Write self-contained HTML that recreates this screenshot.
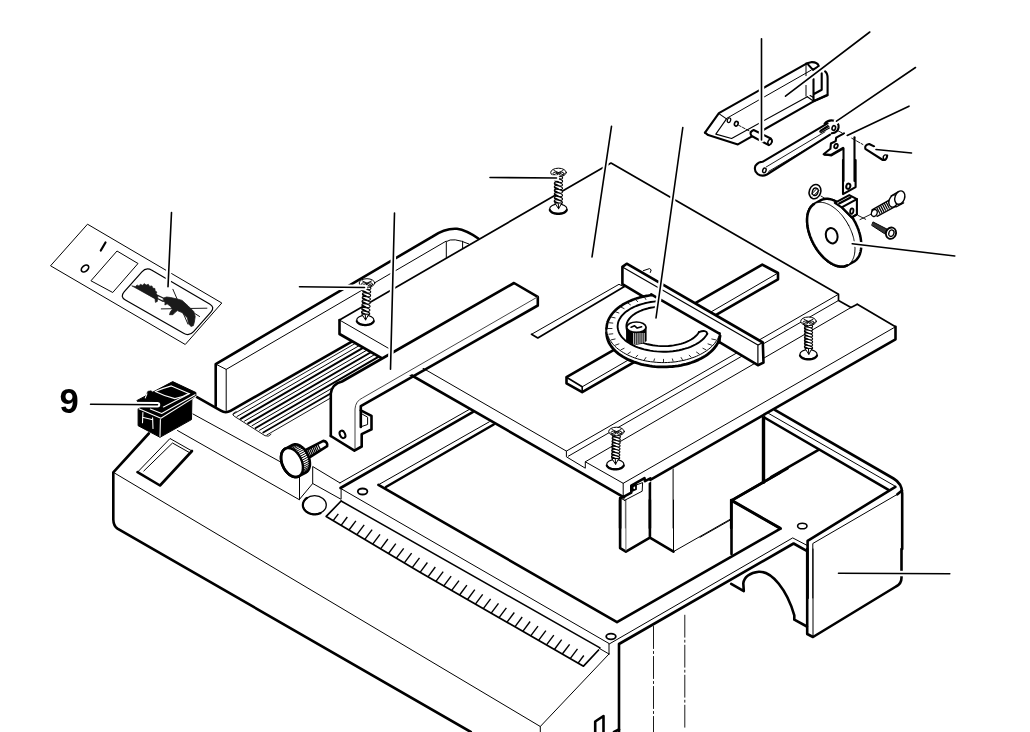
<!DOCTYPE html>
<html><head><meta charset="utf-8"><title>Exploded view</title>
<style>
html,body{margin:0;padding:0;background:#fff;}
body{width:1030px;height:732px;overflow:hidden;position:relative;font-family:"Liberation Sans",sans-serif;}
svg{position:absolute;left:0;top:0;display:block}
</style></head><body>
<svg width="1030" height="732" viewBox="0 0 1030 732" stroke-linecap="round" stroke-linejoin="round">
<rect width="1030" height="732" fill="#fff"/>
<path d="M148.8,433.5 L113.3,472.3 L113.3,519.5 Q113.5,526.0 117.5,528.6 L470.8,732.0" fill="none" stroke="#000" stroke-width="2.60" />
<path d="M113.3,472.3 L540.3,726.5 L540.3,732.0 M540.3,726.5 L609.0,654.0" fill="none" stroke="#000" stroke-width="1.00" />
<path d="M137.5,472.2 L170.0,438.5 L192.0,451.0" fill="none" stroke="#000" stroke-width="1.00" />
<path d="M137.5,472.2 L160.0,485.5 L192.0,451.0" fill="none" stroke="#000" stroke-width="2.60" />
<path d="M143.8,471.0 L172.5,443.0 L188.8,452.2" fill="none" stroke="#000" stroke-width="1.00" />
<path d="M177.5,430.5 L299.5,499.8 L299.5,472.3 L193.0,414.0" fill="none" stroke="#000" stroke-width="1.00" />
<path d="M299.5,477.9 L299.5,499.3 L312.7,483.5 L312.7,466.5 L339.9,482.9 M312.7,483.5 L341.1,499.3 L341.1,488.6" fill="none" stroke="#000" stroke-width="1.00" />
<ellipse cx="314.6" cy="505.0" rx="11.7" ry="9.3" transform="rotate(0.0 314.6 505.0)" fill="none" stroke="#000" stroke-width="1.30"/>
<path d="M320.5,513.1 L320.1,513.3 L319.6,513.4 L319.2,513.6 L318.7,513.7 L318.3,513.9 L317.8,514.0 L317.4,514.1 L316.9,514.2 L316.4,514.2 L315.9,514.3 L315.4,514.3 L315.0,514.3 L314.5,514.3 L314.0,514.3 L313.5,514.3 L313.0,514.3 L312.5,514.2 L312.1,514.1 L311.6,514.0 L311.1,513.9 L310.7,513.8 L310.2,513.7 L309.8,513.5 L309.3,513.3 L308.9,513.2 L308.5,513.0 L308.1,512.8 L307.7,512.5 L307.3,512.3 L306.9,512.1 L306.6,511.8 L306.2,511.5 L305.9,511.3 L305.6,511.0 L305.3,510.7 L305.0,510.4 L304.7,510.0 L304.5,509.7 L304.2,509.4 L304.0,509.0 L303.8,508.7 L303.6,508.3 L303.5,508.0 L303.3,507.6 L303.2,507.2 L303.1,506.8 L303.0,506.5 L302.9,506.1 L302.9,505.7 L302.9,505.3 L302.9,504.9 L302.9,504.5 L302.9,504.2 L303.0,503.8 L303.1,503.4 L303.1,503.0 L303.3,502.7 L303.4,502.3 L303.5,501.9 L303.7,501.6 L303.9,501.2 L304.1,500.8 L304.3,500.5 L304.6,500.2 L304.8,499.9 L305.1,499.5 L305.4,499.2 L305.7,498.9 L306.0,498.6 L306.4,498.4 L306.7,498.1 L307.1,497.8" fill="none" stroke="#000" stroke-width="2.20" />
<path d="M340.5,488.0 L472.7,412.2" fill="none" stroke="#000" stroke-width="2.60" />
<path d="M339.9,482.9 L469.2,409.5" fill="none" stroke="#000" stroke-width="1.00" />
<path d="M378.4,484.8 L489.3,421.8" fill="none" stroke="#000" stroke-width="1.00" />
<path d="M385.9,487.0 L493.7,424.5" fill="none" stroke="#000" stroke-width="2.60" />
<path d="M378.4,484.8 L617.0,622.2 L780.5,528.6" fill="none" stroke="#000" stroke-width="2.60" />
<ellipse cx="362.6" cy="491.5" rx="4.8" ry="3.0" transform="rotate(0.0 362.6 491.5)" fill="none" stroke="#000" stroke-width="1.80"/>
<path d="M340.8,488.5 L609.0,643.5 L609.0,654.0" fill="none" stroke="#000" stroke-width="1.00" />
<path d="M341.1,501.0 L600.0,647.8" fill="none" stroke="#000" stroke-width="1.50" />
<path d="M326.2,516.4 L420.0,572.2 L583.5,666.2 L598.6,650.0 M326.2,516.4 L341.1,501.0" fill="none" stroke="#000" stroke-width="1.70" />
<path d="M599.5,648.5 L609.0,654.0" fill="none" stroke="#000" stroke-width="1.00" />
<path d="M333.2,520.6 L338.3,513.8" fill="none" stroke="#000" stroke-width="1.40" stroke-linecap="butt"/>
<path d="M341.1,525.3 L347.3,517.0" fill="none" stroke="#000" stroke-width="1.40" stroke-linecap="butt"/>
<path d="M349.0,530.0 L355.9,520.8" fill="none" stroke="#000" stroke-width="1.40" stroke-linecap="butt"/>
<path d="M356.9,534.7 L364.2,524.9" fill="none" stroke="#000" stroke-width="1.40" stroke-linecap="butt"/>
<path d="M364.8,539.4 L372.1,529.6" fill="none" stroke="#000" stroke-width="1.40" stroke-linecap="butt"/>
<path d="M372.7,544.1 L380.0,534.3" fill="none" stroke="#000" stroke-width="1.40" stroke-linecap="butt"/>
<path d="M380.6,548.8 L387.9,539.0" fill="none" stroke="#000" stroke-width="1.40" stroke-linecap="butt"/>
<path d="M388.5,553.5 L395.8,543.7" fill="none" stroke="#000" stroke-width="1.40" stroke-linecap="butt"/>
<path d="M396.4,558.2 L403.7,548.4" fill="none" stroke="#000" stroke-width="1.40" stroke-linecap="butt"/>
<path d="M404.3,562.9 L411.6,553.1" fill="none" stroke="#000" stroke-width="1.40" stroke-linecap="butt"/>
<path d="M412.2,567.6 L419.5,557.8" fill="none" stroke="#000" stroke-width="1.40" stroke-linecap="butt"/>
<path d="M420.1,572.3 L427.4,562.5" fill="none" stroke="#000" stroke-width="1.40" stroke-linecap="butt"/>
<path d="M428.0,576.8 L435.3,567.0" fill="none" stroke="#000" stroke-width="1.40" stroke-linecap="butt"/>
<path d="M435.9,581.3 L443.2,571.6" fill="none" stroke="#000" stroke-width="1.40" stroke-linecap="butt"/>
<path d="M443.8,585.9 L451.1,576.1" fill="none" stroke="#000" stroke-width="1.40" stroke-linecap="butt"/>
<path d="M451.7,590.4 L459.0,580.7" fill="none" stroke="#000" stroke-width="1.40" stroke-linecap="butt"/>
<path d="M459.6,595.0 L466.9,585.2" fill="none" stroke="#000" stroke-width="1.40" stroke-linecap="butt"/>
<path d="M467.5,599.5 L474.8,589.7" fill="none" stroke="#000" stroke-width="1.40" stroke-linecap="butt"/>
<path d="M475.4,604.1 L482.7,594.3" fill="none" stroke="#000" stroke-width="1.40" stroke-linecap="butt"/>
<path d="M483.3,608.6 L490.6,598.8" fill="none" stroke="#000" stroke-width="1.40" stroke-linecap="butt"/>
<path d="M491.2,613.1 L498.5,603.4" fill="none" stroke="#000" stroke-width="1.40" stroke-linecap="butt"/>
<path d="M499.1,617.7 L506.4,607.9" fill="none" stroke="#000" stroke-width="1.40" stroke-linecap="butt"/>
<path d="M507.0,622.2 L514.3,612.5" fill="none" stroke="#000" stroke-width="1.40" stroke-linecap="butt"/>
<path d="M514.9,626.8 L522.2,617.0" fill="none" stroke="#000" stroke-width="1.40" stroke-linecap="butt"/>
<path d="M522.8,631.3 L530.1,621.5" fill="none" stroke="#000" stroke-width="1.40" stroke-linecap="butt"/>
<path d="M530.7,635.8 L538.0,626.1" fill="none" stroke="#000" stroke-width="1.40" stroke-linecap="butt"/>
<path d="M538.6,640.4 L545.9,630.6" fill="none" stroke="#000" stroke-width="1.40" stroke-linecap="butt"/>
<path d="M546.5,644.9 L553.8,635.2" fill="none" stroke="#000" stroke-width="1.40" stroke-linecap="butt"/>
<path d="M554.4,649.5 L561.7,639.7" fill="none" stroke="#000" stroke-width="1.40" stroke-linecap="butt"/>
<path d="M562.3,654.0 L569.6,644.3" fill="none" stroke="#000" stroke-width="1.40" stroke-linecap="butt"/>
<path d="M570.2,658.6 L577.5,648.8" fill="none" stroke="#000" stroke-width="1.40" stroke-linecap="butt"/>
<path d="M578.1,663.1 L583.8,655.5" fill="none" stroke="#000" stroke-width="1.40" stroke-linecap="butt"/>
<ellipse cx="611.0" cy="636.5" rx="4.8" ry="2.8" transform="rotate(0.0 611.0 636.5)" fill="none" stroke="#000" stroke-width="1.80"/>
<path d="M609.2,644.0 L792.7,537.9 L806.7,545.2" fill="none" stroke="#000" stroke-width="1.00" />
<path d="M619.0,732.0 L619.0,644.0 L793.6,543.5 L806.7,550.8" fill="none" stroke="#000" stroke-width="2.60" />
<path d="M653.5,626.5 L653.5,732.0 M684.8,615.2 L684.8,729.0" fill="none" stroke="#000" stroke-width="0.90" stroke-dasharray="22 3 2 3"/>
<path d="M595.2,732.0 L595.2,721.5 L603.5,716.0 L603.5,732.0 M614.0,732.0 L619.0,729.5" fill="none" stroke="#000" stroke-width="2.60" />
<path d="M731.2,583.8 L743.8,591.1 L743.3,583.3 C744.0,577.0 750.0,572.5 758.8,571.7 C772.0,571.0 787.0,590.0 794.3,615.3 L794.3,619.7 L806.9,626.5" fill="none" stroke="#000" stroke-width="2.60" />
<path d="M807.6,598.0 L807.6,540.8 L895.4,486.9" fill="none" stroke="#000" stroke-width="2.60" />
<path d="M812.8,598.0 L812.8,543.5 L897.4,494.3" fill="none" stroke="#000" stroke-width="1.00" />
<path d="M897.4,494.3 L902.0,490.5" fill="none" stroke="#000" stroke-width="2.60" />
<ellipse cx="802.3" cy="526.0" rx="4.7" ry="2.8" transform="rotate(0.0 802.3 526.0)" fill="none" stroke="#000" stroke-width="1.60"/>
<path d="M774.8,409.8 L893.5,478.5 Q902.2,483.5 902.2,493.5 L902.2,549.0" fill="none" stroke="#000" stroke-width="2.60" />
<path d="M768.2,413.2 L895.4,486.3" fill="none" stroke="#000" stroke-width="1.00" />
<path d="M764.3,417.5 L888.5,489.8" fill="none" stroke="#000" stroke-width="2.60" />
<path d="M901.5,549.0 L901.5,577.8 Q901.5,584.0 896.0,586.5 L813.0,637.0 L807.2,634.0 L807.2,549.0" fill="none" stroke="#000" stroke-width="2.60" />
<path d="M813.0,549.0 L813.0,636.5" fill="none" stroke="#000" stroke-width="1.00" />
<path d="M731.5,554.0 L731.5,500.6 L787.5,468.3 M731.5,500.6 L780.5,528.6 M763.3,470.0 L763.3,482.2" fill="none" stroke="#000" stroke-width="2.60" />
<path d="M700.0,537.3 L730.6,519.9" fill="none" stroke="#000" stroke-width="1.00" />
<path d="M763.5,482.2 L780.0,472.6 M763.5,482.2 L731.2,500.6 L731.2,528.0" fill="none" stroke="#000" stroke-width="2.60" />
<path d="M763.5,414.0 L763.5,482.2" fill="none" stroke="#000" stroke-width="3.40" />
<path d="M731.2,500.0 L780.0,528.0" fill="none" stroke="#000" stroke-width="2.60" />
<path d="M620.1,498.0 L620.1,528.0 M649.9,481.3 L649.9,528.0" fill="none" stroke="#000" stroke-width="2.60" />
<path d="M625.4,500.6 L625.4,528.0" fill="none" stroke="#666" stroke-width="1.00" />
<path d="M673.1,467.3 L673.1,528.0 M620.1,498.0 L625.4,500.6" fill="none" stroke="#000" stroke-width="1.00" />
<path d="M620.1,500.0 L620.1,548.1 L625.9,551.6 L649.9,537.6 L649.9,500.0 M649.9,537.6 L673.5,551.6" fill="none" stroke="#000" stroke-width="2.60" />
<path d="M625.9,500.0 L625.9,550.7" fill="none" stroke="#666" stroke-width="1.00" />
<path d="M673.5,500.0 L673.5,551.6 L730.3,519.2" fill="none" stroke="#000" stroke-width="1.00" />
<path d="M771.0,477.2 L818.5,449.8" fill="none" stroke="#000" stroke-width="2.60" />
<path d="M215.7,364.1 L432.0,236.8 Q445.0,228.0 457.0,228.8 Q466.0,230.0 478.3,238.5 L352.2,341.4 L229.7,411.3 L222.7,411.3 L215.7,405.2 Z" fill="#fff" stroke="#fff" stroke-width="0.10" />
<path d="M352.2,341.4 L230.5,410.9 Q225.6,413.6 220.8,410.7 L197.0,397.1" fill="none" stroke="#000" stroke-width="2.60" />
<path d="M215.7,406.0 L215.7,364.1 L432.0,236.8 Q445.0,228.0 457.0,228.8 Q466.0,230.0 478.3,238.5" fill="none" stroke="#000" stroke-width="2.60" />
<path d="M215.7,364.1 L226.2,369.4 L226.2,410.5 M226.2,369.4 L446.0,241.2" fill="none" stroke="#000" stroke-width="1.00" />
<path d="M446.3,257.9 L446.3,241.6 Q452.9,236.9 468.7,243.9 M462.6,241.2 L462.6,248.2" fill="none" stroke="#000" stroke-width="1.00" />
<path d="M233.2,414.2 L363.2,338.8" fill="none" stroke="#000" stroke-width="0.90" />
<path d="M237.0,416.5 L367.0,341.1" fill="none" stroke="#000" stroke-width="1.00" />
<path d="M240.7,418.8 L370.7,343.4" fill="none" stroke="#000" stroke-width="2.00" />
<path d="M244.5,421.1 L374.5,345.7" fill="none" stroke="#000" stroke-width="1.00" />
<path d="M248.2,423.4 L378.2,348.0" fill="none" stroke="#000" stroke-width="2.00" />
<path d="M252.0,425.7 L382.0,350.3" fill="none" stroke="#000" stroke-width="1.00" />
<path d="M255.7,428.0 L385.7,352.6" fill="none" stroke="#000" stroke-width="2.00" />
<path d="M259.5,430.3 L389.5,354.9" fill="none" stroke="#000" stroke-width="1.00" />
<path d="M263.2,432.6 L393.2,357.2" fill="none" stroke="#000" stroke-width="1.70" />
<path d="M267.0,434.9 L397.0,359.5" fill="none" stroke="#000" stroke-width="0.90" />
<path d="M236.2,411.7 Q230.7,413.7 234.2,416.2 L265.0,435.7 Q268.5,437.4 271.0,434.4" fill="none" stroke="#000" stroke-width="0.90" />
<path d="M305.3,450.1 L323.3,440.9 Q328.1,441.8 327.1,446.2 L308.7,457.9 Z" fill="#fff" stroke="#000" stroke-width="2.60" />
<path d="M306.0,449.8 L308.9,456.4" fill="none" stroke="#000" stroke-width="1.20" />
<path d="M307.6,449.0 L310.5,455.6" fill="none" stroke="#000" stroke-width="1.20" />
<path d="M309.3,448.2 L312.2,454.8" fill="none" stroke="#000" stroke-width="1.20" />
<path d="M310.9,447.3 L313.8,453.9" fill="none" stroke="#000" stroke-width="1.20" />
<path d="M312.6,446.5 L315.5,453.1" fill="none" stroke="#000" stroke-width="1.20" />
<path d="M314.2,445.7 L317.1,452.3" fill="none" stroke="#000" stroke-width="1.20" />
<path d="M315.9,444.9 L318.8,451.5" fill="none" stroke="#000" stroke-width="1.20" />
<path d="M317.9,444.8 L320.8,450.1" fill="none" stroke="#000" stroke-width="1.20" />
<path d="M298.5,476.4 L298.2,476.6 L297.8,476.7 L297.5,476.8 L297.2,476.9 L296.8,476.9 L296.5,477.0 L296.2,477.0 L295.8,477.0 L295.4,477.0 L295.1,477.0 L294.7,477.0 L294.3,476.9 L294.0,476.8 L293.6,476.7 L293.2,476.6 L292.8,476.5 L292.4,476.3 L292.1,476.2 L291.7,476.0 L291.3,475.8 L290.9,475.6 L290.5,475.4 L290.2,475.1 L289.8,474.9 L289.4,474.6 L289.0,474.3 L288.7,474.0 L288.3,473.7 L288.0,473.4 L287.6,473.0 L287.3,472.7 L286.9,472.3 L286.6,471.9 L286.3,471.5 L285.9,471.1 L285.6,470.7 L285.3,470.3 L285.0,469.9 L284.7,469.4 L284.4,469.0 L284.2,468.5 L283.9,468.1 L283.7,467.6 L283.4,467.1 L283.2,466.6 L283.0,466.1 L282.8,465.7 L282.6,465.2 L282.4,464.7 L282.2,464.2 L282.0,463.7 L281.9,463.1 L281.7,462.6 L281.6,462.1 L281.5,461.6 L281.4,461.1 L281.3,460.6 L281.2,460.1 L281.2,459.6 L281.1,459.1 L281.1,458.6 L281.1,458.2 L281.1,457.7 L281.1,457.2 L281.1,456.7 L281.1,456.3 L281.2,455.8 L281.2,455.4 L281.3,454.9 L281.4,454.5 L281.5,454.1 L281.6,453.7 L281.7,453.3 L281.8,452.9 L282.0,452.5 L282.1,452.2 L282.3,451.8 L282.5,451.5 L282.7,451.2 L282.9,450.9 L283.1,450.6 L283.3,450.3 L283.6,450.0 L283.8,449.8 L284.1,449.5 L284.3,449.3 L284.6,449.1 L284.9,448.9 L285.2,448.8 L292.5,444.9 L292.8,444.8 L293.1,444.7 L293.5,444.6 L293.8,444.5 L294.1,444.4 L294.5,444.4 L294.8,444.3 L295.2,444.3 L295.5,444.3 L295.9,444.4 L296.3,444.4 L296.6,444.5 L297.0,444.5 L297.4,444.6 L297.8,444.7 L298.1,444.9 L298.5,445.0 L298.9,445.2 L299.3,445.3 L299.7,445.5 L300.0,445.8 L300.4,446.0 L300.8,446.2 L301.2,446.5 L301.6,446.8 L301.9,447.0 L302.3,447.3 L302.7,447.7 L303.0,448.0 L303.4,448.3 L303.7,448.7 L304.0,449.0 L304.4,449.4 L304.7,449.8 L305.0,450.2 L305.3,450.6 L305.7,451.1 L306.0,451.5 L306.2,451.9 L306.5,452.4 L306.8,452.8 L307.1,453.3 L307.3,453.8 L307.5,454.3 L307.8,454.7 L308.0,455.2 L308.2,455.7 L308.4,456.2 L308.6,456.7 L308.8,457.2 L308.9,457.7 L309.1,458.2 L309.2,458.7 L309.3,459.2 L309.5,459.7 L309.6,460.2 L309.7,460.7 L309.7,461.2 L309.8,461.7 L309.8,462.2 L309.9,462.7 L309.9,463.2 L309.9,463.7 L309.9,464.2 L309.9,464.6 L309.9,465.1 L309.8,465.5 L309.8,466.0 L309.7,466.4 L309.6,466.8 L309.5,467.3 L309.4,467.7 L309.3,468.1 L309.1,468.4 L309.0,468.8 L308.8,469.2 L308.7,469.5 L308.5,469.9 L308.3,470.2 L308.1,470.5 L307.9,470.8 L307.6,471.1 L307.4,471.3 L307.2,471.6 L306.9,471.8 L306.6,472.0 L306.3,472.2 L306.1,472.4 L305.8,472.6 Z" fill="#fff" stroke="#000" stroke-width="2.60" />
<path d="M300.8,458.4 L301.0,458.9 L301.2,459.4 L301.4,459.9 L301.6,460.4 L301.8,460.9 L301.9,461.4 L302.1,461.9 L302.2,462.4 L302.4,462.9 L302.5,463.4 L302.6,463.9 L302.7,464.4 L302.7,464.9 L302.8,465.4 L302.9,465.9 L302.9,466.4 L302.9,466.9 L302.9,467.4 L302.9,467.9 L302.9,468.3 L302.9,468.8 L302.8,469.2 L302.8,469.7 L302.7,470.1 L302.6,470.5 L302.5,471.0 L302.4,471.4 L302.3,471.8 L302.2,472.1 L302.0,472.5 L301.8,472.9 L301.7,473.2 L301.5,473.6 L301.3,473.9 L301.1,474.2 L300.9,474.5 L300.7,474.8 L300.4,475.0 L300.2,475.3 L299.9,475.5 L299.6,475.7 L299.4,475.9 L299.1,476.1 L298.8,476.3 L298.5,476.4 L298.2,476.6 L297.8,476.7 L297.5,476.8 L297.2,476.9 L296.8,476.9 L296.5,477.0 L296.2,477.0 L295.8,477.0 L295.4,477.0 L295.1,477.0 L294.7,477.0 L294.3,476.9 L294.0,476.8 L293.6,476.7 L293.2,476.6 L292.8,476.5 L292.4,476.3 L292.1,476.2 L291.7,476.0 L291.3,475.8 L290.9,475.6 L290.5,475.4 L290.2,475.1 L289.8,474.9 L289.4,474.6 L289.0,474.3 L288.7,474.0 L288.3,473.7 L288.0,473.4 L287.6,473.0 L287.3,472.7 L286.9,472.3 L286.6,471.9 L286.3,471.5 L285.9,471.1 L285.6,470.7 L285.3,470.3 L285.0,469.9 L284.7,469.4 L284.4,469.0 L284.2,468.5 L283.9,468.1 L283.7,467.6 L283.4,467.1 L283.2,466.6 L283.0,466.1 L282.8,465.7 L282.6,465.2 L282.4,464.7 L282.2,464.2 L282.0,463.7 L281.9,463.1 L281.7,462.6 L281.6,462.1 L281.5,461.6 L281.4,461.1 L281.3,460.6 L281.2,460.1 L281.2,459.6 L281.1,459.1 L281.1,458.6 L281.1,458.2 L281.1,457.7 L281.1,457.2 L281.1,456.7 L281.1,456.3 L281.2,455.8 L281.2,455.4 L281.3,454.9 L281.4,454.5 L281.5,454.1 L281.6,453.7 L281.7,453.3 L281.8,452.9 L282.0,452.5 L282.1,452.2 L282.3,451.8 L282.5,451.5 L282.7,451.2 L282.9,450.9 L283.1,450.6 L283.3,450.3 L283.6,450.0 L283.8,449.8 L284.1,449.5 L284.3,449.3 L284.6,449.1 L284.9,448.9 L285.2,448.8 L285.5,448.6 L285.8,448.5 L286.1,448.4 L286.5,448.3 L286.8,448.2 L287.1,448.1 L287.5,448.1 L287.8,448.0 L288.2,448.0 L288.5,448.0 L288.9,448.1 L289.3,448.1 L289.7,448.2 L290.0,448.2 L290.4,448.3 L290.8,448.4 L291.2,448.6 L291.5,448.7 L291.9,448.9 L292.3,449.0 L292.7,449.2 L293.1,449.4 L293.4,449.7 L293.8,449.9 L294.2,450.2 L294.6,450.4 L294.9,450.7 L295.3,451.0 L295.7,451.3 L296.0,451.7 L296.4,452.0 L296.7,452.4 L297.1,452.7 L297.4,453.1 L297.7,453.5 L298.0,453.9 L298.4,454.3 L298.7,454.7 L299.0,455.2 L299.3,455.6 L299.5,456.1 L299.8,456.5 L300.1,457.0 L300.3,457.5 L300.6,457.9 L300.8,458.4 Z" fill="#fff" stroke="#000" stroke-width="1.00" />
<path d="M298.5,476.4 L298.2,476.6 L297.8,476.7 L297.5,476.8 L297.2,476.9 L296.8,476.9 L296.5,477.0 L296.2,477.0 L295.8,477.0 L295.4,477.0 L295.1,477.0 L294.7,477.0 L294.3,476.9 L294.0,476.8 L293.6,476.7 L293.2,476.6 L292.8,476.5 L292.4,476.3 L292.1,476.2 L291.7,476.0 L291.3,475.8 L290.9,475.6 L290.5,475.4 L290.2,475.1 L289.8,474.9 L289.4,474.6 L289.0,474.3 L288.7,474.0 L288.3,473.7 L288.0,473.4 L287.6,473.0 L287.3,472.7 L286.9,472.3 L286.6,471.9 L286.3,471.5 L285.9,471.1 L285.6,470.7 L285.3,470.3 L285.0,469.9 L284.7,469.4 L284.4,469.0 L284.2,468.5 L283.9,468.1 L283.7,467.6 L283.4,467.1 L283.2,466.6 L283.0,466.1 L282.8,465.7 L282.6,465.2 L282.4,464.7 L282.2,464.2 L282.0,463.7 L281.9,463.1 L281.7,462.6 L281.6,462.1 L281.5,461.6 L281.4,461.1 L281.3,460.6 L281.2,460.1 L281.2,459.6 L281.1,459.1 L281.1,458.6 L281.1,458.2 L281.1,457.7 L281.1,457.2 L281.1,456.7 L281.1,456.3 L281.2,455.8 L281.2,455.4 L281.3,454.9 L281.4,454.5 L281.5,454.1 L281.6,453.7 L281.7,453.3 L281.8,452.9 L282.0,452.5 L282.1,452.2 L282.3,451.8 L282.5,451.5 L282.7,451.2 L282.9,450.9 L283.1,450.6 L283.3,450.3 L283.6,450.0 L283.8,449.8 L284.1,449.5 L284.3,449.3 L284.6,449.1 L284.9,448.9 L285.2,448.8" fill="none" stroke="#000" stroke-width="2.60" />
<path d="M287.4,447.9 L293.2,444.8" fill="none" stroke="#000" stroke-width="1.00" />
<path d="M288.8,447.7 L294.6,444.6" fill="none" stroke="#000" stroke-width="1.00" />
<path d="M290.3,447.9 L296.1,444.8" fill="none" stroke="#000" stroke-width="1.00" />
<path d="M291.9,448.3 L297.7,445.2" fill="none" stroke="#000" stroke-width="1.00" />
<path d="M293.4,449.0 L299.2,445.9" fill="none" stroke="#000" stroke-width="1.00" />
<path d="M295.0,450.0 L300.8,446.9" fill="none" stroke="#000" stroke-width="1.00" />
<path d="M296.5,451.3 L302.3,448.1" fill="none" stroke="#000" stroke-width="1.00" />
<path d="M297.9,452.7 L303.7,449.6" fill="none" stroke="#000" stroke-width="1.00" />
<path d="M299.2,454.4 L305.0,451.3" fill="none" stroke="#000" stroke-width="1.00" />
<path d="M300.4,456.2 L306.2,453.1" fill="none" stroke="#000" stroke-width="1.00" />
<path d="M301.4,458.1 L307.2,455.0" fill="none" stroke="#000" stroke-width="1.00" />
<path d="M302.2,460.2 L308.0,457.0" fill="none" stroke="#000" stroke-width="1.00" />
<path d="M302.8,462.2 L308.7,459.1" fill="none" stroke="#000" stroke-width="1.00" />
<path d="M303.3,464.3 L309.1,461.2" fill="none" stroke="#000" stroke-width="1.00" />
<path d="M303.5,466.3 L309.3,463.2" fill="none" stroke="#000" stroke-width="1.00" />
<path d="M303.5,468.3 L309.3,465.2" fill="none" stroke="#000" stroke-width="1.00" />
<path d="M303.2,470.1 L309.1,467.0" fill="none" stroke="#000" stroke-width="1.00" />
<path d="M302.8,471.7 L308.6,468.6" fill="none" stroke="#000" stroke-width="1.00" />
<path d="M302.1,473.2 L307.9,470.1" fill="none" stroke="#000" stroke-width="1.00" />
<path d="M301.3,474.4 L307.1,471.3" fill="none" stroke="#000" stroke-width="1.00" />
<path d="M300.2,475.4 L306.0,472.3" fill="none" stroke="#000" stroke-width="1.00" />
<path d="M300.8,458.4 L301.3,459.7 L301.8,460.9 L302.2,462.2 L302.5,463.4 L302.7,464.7 L302.9,465.9 L302.9,467.1 L302.9,468.3 L302.8,469.5 L302.6,470.5 L302.3,471.6 L302.0,472.5 L301.6,473.4 L301.1,474.2 L300.5,474.9 L299.9,475.5 L299.2,476.0 L298.5,476.4 L297.7,476.7 L296.8,476.9 L296.0,477.0 L295.1,477.0 L294.1,476.9 L293.2,476.6 L292.3,476.3 L291.3,475.8 L290.3,475.3 L289.4,474.6 L288.5,473.9 L287.6,473.0 L286.8,472.1 L285.9,471.1 L285.2,470.1 L284.4,469.0 L283.8,467.8 L283.2,466.6 L282.7,465.4 L282.2,464.2 L281.8,462.9 L281.5,461.6 L281.3,460.4 L281.1,459.1 L281.1,457.9 L281.1,456.7 L281.2,455.6 L281.4,454.5 L281.6,453.5 L282.0,452.5 L282.4,451.7 L282.9,450.9 L283.4,450.2 L284.1,449.5 L284.8,449.0 L285.5,448.6 L286.3,448.3 L287.1,448.1 L288.0,448.0 L288.9,448.1 L289.8,448.2 L290.8,448.4 L291.7,448.8 L292.7,449.2 L293.6,449.8 L294.6,450.4 L295.5,451.2 L296.4,452.0 L297.2,452.9 L298.0,453.9 L298.8,455.0 L299.5,456.1 L300.2,457.2 L300.8,458.4" fill="none" stroke="#000" stroke-width="2.40" />
<path d="M137.2,400.4 L172.7,381.6 L195.9,392.5 L195.9,396.4 L191.9,399.1 L191.5,419.6 L160.0,437.3 L138.1,425.7 L138.1,408.7 L141.2,407.5 Z" fill="#000" stroke="#000" stroke-width="1.00" />
<path d="M139.0,408.7 L160.9,418.3 L195.9,396.4" fill="none" stroke="#fff" stroke-width="1.10" />
<path d="M150.4,409.1 L161.7,413.5 L195.0,394.7" fill="none" stroke="#fff" stroke-width="1.10" />
<path d="M155.2,391.4 Q163.5,388.1 171.4,385.9 L188.9,393.4 Q181.9,397.7 174.9,398.6 Q164.4,396.0 155.2,391.4 Z" fill="none" stroke="#fff" stroke-width="1.10" />
<path d="M145.6,397.3 L163.5,406.9 L189.7,393.5" fill="none" stroke="#fff" stroke-width="1.10" />
<path d="M160.4,419.6 L160.0,436.2" fill="none" stroke="#fff" stroke-width="1.10" />
<path d="M142.9,412.6 L142.5,422.7 M152.6,417.9 L153.0,428.4 M142.5,417.2 L152.8,419.8" fill="none" stroke="#fff" stroke-width="1.10" />
<path d="M144.7,397.9 L147.9,391.2 L151.2,390.7 L163.5,403.9 L162.6,407.4 Z" fill="#000" stroke="#000" stroke-width="0.50" />
<path d="M145.3,397.9 L146.9,393.8" fill="none" stroke="#fff" stroke-width="1.10" />
<path d="M339.5,320.0 L611.0,163.0 L838.5,294.3 L838.5,300.5 L851.0,307.5 L857.3,304.3 L895.5,326.8 L895.5,339.3 L624.0,497.3 L339.5,334.0 Z" fill="#fff" stroke="#fff" stroke-width="0.10" />
<path d="M339.5,320.0 L611.0,163.0 L838.5,294.3 L838.5,300.5 L851.0,307.5 L857.3,304.3" fill="none" stroke="#000" stroke-width="1.70" />
<path d="M857.3,304.3 L895.5,326.8" fill="none" stroke="#000" stroke-width="1.70" />
<path d="M895.5,326.8 L895.5,339.3 L650.3,479.8" fill="none" stroke="#000" stroke-width="2.60" />
<path d="M339.5,320.0 L339.5,334.0 L624.0,497.3" fill="none" stroke="#000" stroke-width="2.60" />
<path d="M339.5,320.0 L566.4,451.1 L566.4,456.8 L585.3,468.2 L585.3,461.8 L623.2,483.3 L895.5,326.8 M623.2,483.3 L623.2,496.0" fill="none" stroke="#000" stroke-width="1.00" />
<path d="M566.4,451.1 L838.5,294.3 M568.3,456.2 L838.5,300.5 M585.3,461.8 L851.0,307.5" fill="none" stroke="#000" stroke-width="1.00" />
<path d="M623.5,496.8 L631.3,492.6 L631.3,485.7 L644.5,478.1 L645.0,481.2 L650.4,478.3" fill="none" stroke="#000" stroke-width="2.60" />
<path d="M632.7,486.3 L636.0,484.9 L636.0,489.2 L632.7,490.8 Z" fill="none" stroke="#000" stroke-width="1.80" />
<path d="M636.0,485.1 L642.6,482.6 L642.2,491.2 L624.3,500.5" fill="none" stroke="#000" stroke-width="1.00" />
<path d="M620.4,498.2 L623.5,496.8" fill="none" stroke="#000" stroke-width="2.60" />
<path d="M531.5,334.3 L619.0,284.3 L624.0,286.8" fill="none" stroke="#000" stroke-width="1.00" />
<path d="M531.5,334.3 L537.8,338.0 L624.0,286.8" fill="none" stroke="#000" stroke-width="1.70" />
<path d="M566.5,377.2 L762.3,264.6 L778.0,273.0 L778.0,279.3 L582.2,392.1 L566.5,383.3 Z" fill="#fff" stroke="#000" stroke-width="2.60" />
<path d="M566.5,377.2 L582.2,386.8 L582.2,392.1" fill="none" stroke="#000" stroke-width="1.60" />
<path d="M582.2,386.8 L778.0,273.0" fill="none" stroke="#000" stroke-width="1.00" />
<path d="M622.4,266.9 L626.7,263.7 L762.8,342.5 L763.5,362.6 L757.9,365.2 L622.4,284.1 Z" fill="#fff" stroke="#000" stroke-width="2.60" />
<path d="M622.4,266.9 L757.9,345.1 L757.9,365.2 M757.9,345.1 L762.8,342.5" fill="none" stroke="#000" stroke-width="1.20" />
<path d="M643.3,270.7 L649.5,268.6 L651.2,269.9 L650.3,272.5" fill="none" stroke="#000" stroke-width="1.00" />
<path d="M719.6,338.2 L718.8,340.6 L717.7,343.0 L716.4,345.3 L714.7,347.6 L712.8,349.8 L710.7,351.9 L708.2,353.9 L705.6,355.8 L702.7,357.5 L699.6,359.2 L696.3,360.6 L692.9,362.0 L689.3,363.2 L685.6,364.3 L681.7,365.1 L677.8,365.8 L673.8,366.4 L669.7,366.7 L665.6,366.9 L661.5,366.9 L657.4,366.8 L653.3,366.4 L649.3,365.9 L645.3,365.2 L641.5,364.3 L637.8,363.3 L634.1,362.1 L630.7,360.7 L627.4,359.2 L624.3,357.6 L621.5,355.8 L618.8,353.9 L616.4,351.9 L614.2,349.8 L612.3,347.7 L610.6,345.4 L609.2,343.1 L608.1,340.7 L607.3,338.3 L606.8,335.8 L606.6,333.3 L606.7,330.9 L607.1,328.4 L607.8,326.0 L608.8,323.6 L610.0,321.2 L611.5,318.9 L613.4,316.7 L615.4,314.6 L617.8,312.5 L620.3,310.6 L623.1,308.8 L626.1,307.1 L629.3,305.6 L632.7,304.2 L636.2,302.9 L639.9,301.8 L643.7,300.8 L647.7,300.1 L651.6,299.5 Z" fill="#fff" stroke="#fff" stroke-width="0.10" />
<path d="M720.1,335.8 L719.8,337.5 L719.3,339.3 L718.7,340.9 L717.9,342.6 L717.0,344.3 L716.0,345.9 L714.8,347.5 L713.5,349.0 L712.1,350.5 L710.5,352.0 L708.8,353.4 L707.0,354.8 L705.1,356.1 L703.1,357.3 L700.9,358.5 L698.7,359.6 L696.4,360.6 L694.0,361.6 L691.5,362.5 L689.0,363.3 L686.4,364.1 L683.7,364.7 L681.0,365.3 L678.2,365.8 L675.4,366.2 L672.5,366.5 L669.7,366.7 L666.8,366.9 L663.9,366.9 L661.0,366.9 L658.1,366.8 L655.2,366.6 L652.4,366.3 L649.6,365.9 L646.8,365.4 L644.0,364.9 L641.3,364.3 L638.7,363.5 L636.1,362.7 L633.6,361.9 L631.2,360.9 L628.9,359.9 L626.6,358.8 L624.5,357.6 L622.4,356.4 L620.5,355.1 L618.6,353.8 L616.9,352.4 L615.3,351.0 L613.8,349.5 L612.5,347.9 L611.3,346.3 L610.2,344.7 L609.2,343.1 L608.5,341.4 L607.8,339.7 L607.3,338.0 L606.9,336.3 L606.7,334.6 L606.6,332.8" fill="none" stroke="#000" stroke-width="2.80" />
<path d="M606.6,328.5 L606.6,332.8 M719.4,333.4 L719.4,342.5" fill="none" stroke="#000" stroke-width="2.60" />
<path d="M719.6,333.8 L718.8,336.2 L717.7,338.6 L716.4,340.9 L714.7,343.2 L712.8,345.4 L710.7,347.5 L708.2,349.5 L705.6,351.4 L702.7,353.1 L699.6,354.8 L696.3,356.3 L692.9,357.6 L689.3,358.8 L685.6,359.9 L681.7,360.8 L677.8,361.5 L673.8,362.0 L669.7,362.4 L665.6,362.6 L661.5,362.6 L657.4,362.4 L653.3,362.0 L649.3,361.5 L645.3,360.8 L641.5,359.9 L637.8,358.9 L634.1,357.7 L630.7,356.3 L627.4,354.8 L624.3,353.2 L621.5,351.4 L618.8,349.6 L616.4,347.6 L614.2,345.5 L612.3,343.3 L610.6,341.0 L609.2,338.7 L608.1,336.3 L607.3,333.9 L606.8,331.4 L606.6,329.0 L606.7,326.5 L607.1,324.0 L607.8,321.6 L608.8,319.2 L610.0,316.9 L611.5,314.6 L613.4,312.4 L615.4,310.2 L617.8,308.2 L620.3,306.3 L623.1,304.4 L626.1,302.7 L629.3,301.2 L632.7,299.8 L636.2,298.5 L639.9,297.4 L643.7,296.5 L647.7,295.7 L651.6,295.1 Z" fill="#fff" stroke="#fff" stroke-width="0.10" />
<path d="M719.6,333.8 L719.1,335.5 L718.5,337.1 L717.7,338.8 L716.7,340.4 L715.7,341.9 L714.5,343.5 L713.2,345.0 L711.8,346.4 L710.2,347.9 L708.6,349.2 L706.8,350.6 L704.9,351.8 L702.9,353.0 L700.8,354.2 L698.7,355.2 L696.4,356.3 L694.1,357.2 L691.6,358.1 L689.1,358.9 L686.6,359.6 L684.0,360.3 L681.3,360.8 L678.6,361.3 L675.9,361.8 L673.1,362.1 L670.3,362.3 L667.5,362.5 L664.7,362.6 L661.8,362.6 L659.0,362.5 L656.2,362.3 L653.4,362.0 L650.6,361.7 L647.9,361.3 L645.2,360.8 L642.5,360.2 L639.9,359.5 L637.4,358.8 L634.9,358.0 L632.5,357.1 L630.2,356.1 L627.9,355.1 L625.8,354.0 L623.7,352.8 L621.7,351.6 L619.9,350.3 L618.1,349.0 L616.4,347.6 L614.9,346.2 L613.5,344.7 L612.2,343.2 L611.1,341.7 L610.0,340.1 L609.1,338.5 L608.4,336.9 L607.7,335.2 L607.2,333.5 L606.9,331.9 L606.7,330.2 L606.6,328.5" fill="none" stroke="#000" stroke-width="1.00" />
<path d="M606.6,328.5 L606.6,327.7 L606.7,326.9 L606.8,326.1 L606.8,325.4 L607.0,324.6 L607.1,323.8 L607.3,323.1 L607.5,322.3 L607.8,321.6 L608.1,320.8 L608.4,320.0 L608.7,319.3 L609.1,318.5 L609.5,317.8 L609.9,317.1 L610.3,316.4 L610.8,315.6 L611.3,314.9 L611.8,314.2 L612.4,313.5 L612.9,312.8 L613.6,312.1 L614.2,311.5 L614.8,310.8 L615.5,310.1 L616.2,309.5 L617.0,308.9 L617.7,308.2 L618.5,307.6 L619.3,307.0 L620.1,306.4 L621.0,305.8 L621.8,305.3 L622.7,304.7 L623.6,304.1 L624.5,303.6 L625.5,303.1 L626.5,302.6 L627.5,302.1 L628.5,301.6 L629.5,301.1 L630.5,300.7 L631.6,300.2 L632.7,299.8 L633.8,299.4 L634.9,299.0 L636.0,298.6 L637.1,298.2 L638.3,297.9 L639.4,297.6 L640.6,297.2 L641.8,296.9 L643.0,296.6 L644.2,296.4 L645.4,296.1 L646.7,295.9 L647.9,295.7 L649.1,295.5 L650.4,295.3 L651.6,295.1" fill="none" stroke="#000" stroke-width="2.60" />
<path d="M651.2,294.4 L719.4,333.7" fill="none" stroke="#000" stroke-width="2.60" />
<path d="M711.8,339.0 L715.6,339.8" fill="none" stroke="#111" stroke-width="0.90" />
<path d="M708.0,343.9 L711.5,345.1" fill="none" stroke="#111" stroke-width="0.90" />
<path d="M702.9,348.3 L705.9,349.8" fill="none" stroke="#111" stroke-width="0.90" />
<path d="M696.5,352.1 L699.1,353.9" fill="none" stroke="#111" stroke-width="0.90" />
<path d="M689.2,355.2 L691.2,357.3" fill="none" stroke="#111" stroke-width="0.90" />
<path d="M681.1,357.5 L682.4,359.7" fill="none" stroke="#111" stroke-width="0.90" />
<path d="M672.4,358.9 L673.1,361.2" fill="none" stroke="#111" stroke-width="0.90" />
<path d="M663.5,359.3 L663.5,361.7" fill="none" stroke="#111" stroke-width="0.90" />
<path d="M654.5,358.9 L653.8,361.2" fill="none" stroke="#111" stroke-width="0.90" />
<path d="M645.9,357.5 L644.5,359.7" fill="none" stroke="#111" stroke-width="0.90" />
<path d="M637.7,355.2 L635.8,357.3" fill="none" stroke="#111" stroke-width="0.90" />
<path d="M630.4,352.1 L627.8,353.9" fill="none" stroke="#111" stroke-width="0.90" />
<path d="M624.1,348.3 L621.0,349.8" fill="none" stroke="#111" stroke-width="0.90" />
<path d="M618.9,343.9 L615.5,345.1" fill="none" stroke="#111" stroke-width="0.90" />
<path d="M615.1,339.0 L611.4,339.8" fill="none" stroke="#111" stroke-width="0.90" />
<path d="M612.8,333.8 L608.9,334.2" fill="none" stroke="#111" stroke-width="0.90" />
<path d="M612.0,328.5 L608.0,328.5" fill="none" stroke="#111" stroke-width="0.90" />
<path d="M612.8,323.1 L608.9,322.7" fill="none" stroke="#111" stroke-width="0.90" />
<path d="M615.1,317.9 L611.4,317.1" fill="none" stroke="#111" stroke-width="0.90" />
<path d="M618.9,313.0 L615.5,311.8" fill="none" stroke="#111" stroke-width="0.90" />
<path d="M624.1,308.6 L621.0,307.1" fill="none" stroke="#111" stroke-width="0.90" />
<path d="M630.4,304.8 L627.8,303.0" fill="none" stroke="#111" stroke-width="0.90" />
<path d="M637.7,301.7 L635.8,299.7" fill="none" stroke="#111" stroke-width="0.90" />
<path d="M645.9,299.5 L644.5,297.2" fill="none" stroke="#111" stroke-width="0.90" />
<path d="M707.3,333.8 L706.2,335.5 L704.9,337.2 L703.5,338.8 L701.8,340.3 L699.9,341.8 L697.8,343.2 L695.5,344.5 L693.1,345.7 L690.6,346.8 L687.9,347.8 L685.0,348.7 L682.1,349.5 L679.1,350.2 L676.0,350.8 L672.8,351.2 L669.6,351.5 L666.3,351.7 L663.1,351.7 L659.8,351.6 L656.6,351.4 L653.4,351.1 L650.2,350.6 L647.1,350.0 L644.1,349.4 L641.2,348.5 L638.4,347.6 L635.7,346.6 L633.2,345.4 L630.8,344.2 L628.6,342.8 L626.6,341.4 L624.7,339.9 L623.1,338.4 L621.7,336.8 L620.4,335.1 L619.4,333.4 L618.6,331.6 L618.1,329.8 L617.7,328.0 L617.6,326.2 L617.8,324.4 L618.1,322.6 L618.7,320.8 L619.6,319.1 L620.6,317.4 L621.9,315.7 L623.4,314.1 L625.0,312.5 L626.9,311.1 L629.0,309.7 L631.2,308.3 L633.6,307.1 L636.2,306.0 L638.8,305.0 L641.7,304.1 L644.6,303.3 L647.6,302.6 L650.7,302.0 L653.9,301.6 L657.1,301.2" fill="none" stroke="#000" stroke-width="1.90" />
<path d="M698.9,332.1 L698.1,333.5 L697.0,334.8 L695.8,336.0 L694.4,337.2 L692.9,338.4 L691.2,339.5 L689.4,340.5 L687.5,341.4 L685.4,342.3 L683.2,343.1 L680.9,343.8 L678.5,344.4 L676.1,344.9 L673.6,345.4 L671.0,345.7 L668.4,346.0 L665.8,346.1 L663.1,346.1 L660.5,346.1 L657.9,345.9 L655.3,345.6 L652.7,345.3 L650.2,344.8 L647.8,344.3 L645.4,343.6 L643.2,342.9 L641.0,342.1 L639.0,341.2 L637.1,340.2 L635.3,339.2 L633.6,338.1 L632.1,336.9 L630.8,335.7 L629.6,334.5 L628.6,333.2 L627.8,331.8 L627.2,330.4 L626.7,329.1 L626.5,327.7 L626.4,326.2 L626.5,324.8 L626.8,323.4 L627.3,322.1 L627.9,320.7 L628.8,319.4 L629.8,318.1 L631.0,316.8 L632.4,315.6 L633.9,314.5 L635.5,313.4 L637.4,312.3 L639.3,311.4 L641.4,310.5 L643.5,309.7 L645.8,309.0 L648.2,308.3 L650.6,307.8 L653.1,307.4 L655.7,307.0 L658.3,306.8" fill="none" stroke="#000" stroke-width="1.90" />
<path d="M707.3,333.8 Q706.4,329.4 698.9,332.1" fill="none" stroke="#000" stroke-width="1.90" />
<path d="M626.7,327.2 L626.7,340.7 Q636.4,347.7 646.0,340.7 L646.0,327.2 Z" fill="#000" stroke="#000" stroke-width="1.20" />
<path d="M633.7,333.4 L633.7,343.5" fill="none" stroke="#fff" stroke-width="0.90" />
<path d="M635.8,333.4 L635.8,344.0" fill="none" stroke="#fff" stroke-width="0.90" />
<path d="M637.9,333.4 L637.9,343.7" fill="none" stroke="#fff" stroke-width="0.90" />
<path d="M640.0,333.4 L640.0,343.2" fill="none" stroke="#fff" stroke-width="0.90" />
<path d="M642.1,333.4 L642.1,342.6" fill="none" stroke="#fff" stroke-width="0.90" />
<path d="M644.2,333.4 L644.2,342.1" fill="none" stroke="#fff" stroke-width="0.90" />
<ellipse cx="636.4" cy="327.2" rx="9.6" ry="5.2" transform="rotate(0.0 636.4 327.2)" fill="#fff" stroke="#000" stroke-width="1.60"/>
<path d="M631.1,327.2 L634.6,325.8 L637.2,328.1 L641.6,326.7" fill="none" stroke="#000" stroke-width="1.60" />
<path d="M342.0,381.5 L514.0,283.0 L537.8,296.8 L537.8,305.5 L367.0,398.5 L360.0,406.0 L360.0,446.0 L354.4,450.7 L330.8,436.0 L330.8,393.5 Q332.0,385.0 342.0,381.5 Z" fill="#fff" stroke="#fff" stroke-width="0.10" />
<path d="M330.8,436.0 L330.8,393.5 Q332.0,384.0 342.0,381.5 L514.0,283.0 L537.8,296.8 L537.8,305.5 L360.8,406.1 L360.8,427.0" fill="none" stroke="#000" stroke-width="2.60" />
<path d="M537.8,296.8 L362.7,397.8 Q355.5,401.0 355.0,409.0 L355.0,450.0" fill="none" stroke="#444" stroke-width="1.00" />
<path d="M330.8,436.0 L354.4,450.7 L361.7,446.5 L361.7,434.2 L371.5,429.4 L371.5,415.8 L360.8,410.4" fill="none" stroke="#000" stroke-width="2.60" />
<path d="M361.7,413.8 L367.6,417.2 L367.6,424.5 L361.7,426.5" fill="none" stroke="#000" stroke-width="1.00" />
<ellipse cx="342.5" cy="434.4" rx="2.6" ry="3.9" transform="rotate(-25.0 342.5 434.4)" fill="none" stroke="#000" stroke-width="2.00"/>
<ellipse cx="615.3" cy="464.3" rx="8.6" ry="4.6" fill="#fff" stroke="#000" stroke-width="1.2"/>
<path d="M623.8,465.6 L623.6,466.0 L623.3,466.4 L623.0,466.8 L622.6,467.2 L622.2,467.5 L621.7,467.9 L621.1,468.2 L620.5,468.5 L619.9,468.7 L619.2,468.9 L618.4,469.1 L617.7,469.2 L616.9,469.3 L616.1,469.4 L615.3,469.4 L614.5,469.4 L613.7,469.3 L612.9,469.2 L612.2,469.1 L611.4,468.9 L610.7,468.7 L610.1,468.5 L609.5,468.2 L608.9,467.9 L608.4,467.5 L608.0,467.2 L607.6,466.8 L607.3,466.4 L607.0,466.0 L606.8,465.6" fill="none" stroke="#000" stroke-width="2.2"/>
<ellipse cx="616.3" cy="436.0" rx="4.2" ry="1.7" transform="rotate(14 616.3 436.0)" fill="#fff" stroke="#000" stroke-width="1.1"/>
<path d="M612.9,435.8 L616.0,437.4" stroke="#000" stroke-width="1.5" fill="none"/>
<ellipse cx="616.2" cy="439.0" rx="4.2" ry="1.7" transform="rotate(14 616.2 439.0)" fill="#fff" stroke="#000" stroke-width="1.1"/>
<path d="M612.8,438.8 L615.9,440.4" stroke="#000" stroke-width="1.5" fill="none"/>
<ellipse cx="616.1" cy="442.1" rx="4.2" ry="1.7" transform="rotate(14 616.1 442.1)" fill="#fff" stroke="#000" stroke-width="1.1"/>
<path d="M612.7,441.9 L615.8,443.5" stroke="#000" stroke-width="1.5" fill="none"/>
<ellipse cx="616.0" cy="445.1" rx="4.2" ry="1.7" transform="rotate(14 616.0 445.1)" fill="#fff" stroke="#000" stroke-width="1.1"/>
<path d="M612.6,444.9 L615.7,446.5" stroke="#000" stroke-width="1.5" fill="none"/>
<ellipse cx="615.9" cy="448.2" rx="4.2" ry="1.7" transform="rotate(14 615.9 448.2)" fill="#fff" stroke="#000" stroke-width="1.1"/>
<path d="M612.5,448.0 L615.6,449.6" stroke="#000" stroke-width="1.5" fill="none"/>
<ellipse cx="615.8" cy="451.2" rx="4.2" ry="1.7" transform="rotate(14 615.8 451.2)" fill="#fff" stroke="#000" stroke-width="1.1"/>
<path d="M612.4,451.0 L615.5,452.6" stroke="#000" stroke-width="1.5" fill="none"/>
<ellipse cx="615.7" cy="454.3" rx="4.2" ry="1.7" transform="rotate(14 615.7 454.3)" fill="#fff" stroke="#000" stroke-width="1.1"/>
<path d="M612.3,454.1 L615.4,455.7" stroke="#000" stroke-width="1.5" fill="none"/>
<ellipse cx="615.6" cy="457.3" rx="4.2" ry="1.7" transform="rotate(14 615.6 457.3)" fill="#fff" stroke="#000" stroke-width="1.1"/>
<path d="M612.2,457.1 L615.3,458.7" stroke="#000" stroke-width="1.5" fill="none"/>
<path d="M612.0,458.8 L615.6,464.3 L618.6,458.8 Z" fill="#fff" stroke="#000" stroke-width="1.0"/>
<path d="M615.3,459.3 L615.6,464.3" stroke="#000" stroke-width="1.0"/>
<ellipse cx="616.5" cy="431.5" rx="7.8" ry="4.3" fill="#fff" stroke="#000" stroke-width="1.0"/>
<path d="M612.0,429.5 L621.0,433.7 M612.0,433.7 L621.0,429.5" stroke="#000" stroke-width="0.9" fill="none"/>
<ellipse cx="613.5" cy="432.8" rx="2.6" ry="1.6" fill="none" stroke="#000" stroke-width="0.9"/>
<ellipse cx="619.5" cy="432.8" rx="2.6" ry="1.6" fill="none" stroke="#000" stroke-width="0.9"/>
<ellipse cx="808.5" cy="354.3" rx="8.6" ry="4.6" fill="#fff" stroke="#000" stroke-width="1.2"/>
<path d="M817.0,355.6 L816.8,356.0 L816.5,356.4 L816.2,356.8 L815.8,357.2 L815.4,357.5 L814.9,357.9 L814.3,358.2 L813.7,358.5 L813.1,358.7 L812.4,358.9 L811.6,359.1 L810.9,359.2 L810.1,359.3 L809.3,359.4 L808.5,359.4 L807.7,359.4 L806.9,359.3 L806.1,359.2 L805.4,359.1 L804.6,358.9 L803.9,358.7 L803.3,358.5 L802.7,358.2 L802.1,357.9 L801.6,357.5 L801.2,357.2 L800.8,356.8 L800.5,356.4 L800.2,356.0 L800.0,355.6" fill="none" stroke="#000" stroke-width="2.2"/>
<ellipse cx="808.5" cy="325.8" rx="4.2" ry="1.7" transform="rotate(14 808.5 325.8)" fill="#fff" stroke="#000" stroke-width="1.1"/>
<path d="M805.1,325.6 L808.2,327.2" stroke="#000" stroke-width="1.5" fill="none"/>
<ellipse cx="808.5" cy="328.9" rx="4.2" ry="1.7" transform="rotate(14 808.5 328.9)" fill="#fff" stroke="#000" stroke-width="1.1"/>
<path d="M805.1,328.7 L808.2,330.3" stroke="#000" stroke-width="1.5" fill="none"/>
<ellipse cx="808.5" cy="331.9" rx="4.2" ry="1.7" transform="rotate(14 808.5 331.9)" fill="#fff" stroke="#000" stroke-width="1.1"/>
<path d="M805.1,331.7 L808.2,333.3" stroke="#000" stroke-width="1.5" fill="none"/>
<ellipse cx="808.5" cy="335.0" rx="4.2" ry="1.7" transform="rotate(14 808.5 335.0)" fill="#fff" stroke="#000" stroke-width="1.1"/>
<path d="M805.1,334.8 L808.2,336.4" stroke="#000" stroke-width="1.5" fill="none"/>
<ellipse cx="808.5" cy="338.1" rx="4.2" ry="1.7" transform="rotate(14 808.5 338.1)" fill="#fff" stroke="#000" stroke-width="1.1"/>
<path d="M805.1,337.9 L808.2,339.5" stroke="#000" stroke-width="1.5" fill="none"/>
<ellipse cx="808.5" cy="341.2" rx="4.2" ry="1.7" transform="rotate(14 808.5 341.2)" fill="#fff" stroke="#000" stroke-width="1.1"/>
<path d="M805.1,341.0 L808.2,342.6" stroke="#000" stroke-width="1.5" fill="none"/>
<ellipse cx="808.5" cy="344.2" rx="4.2" ry="1.7" transform="rotate(14 808.5 344.2)" fill="#fff" stroke="#000" stroke-width="1.1"/>
<path d="M805.1,344.0 L808.2,345.6" stroke="#000" stroke-width="1.5" fill="none"/>
<ellipse cx="808.5" cy="347.3" rx="4.2" ry="1.7" transform="rotate(14 808.5 347.3)" fill="#fff" stroke="#000" stroke-width="1.1"/>
<path d="M805.1,347.1 L808.2,348.7" stroke="#000" stroke-width="1.5" fill="none"/>
<path d="M805.2,348.8 L808.8,354.3 L811.8,348.8 Z" fill="#fff" stroke="#000" stroke-width="1.0"/>
<path d="M808.5,349.3 L808.8,354.3" stroke="#000" stroke-width="1.0"/>
<ellipse cx="808.5" cy="321.3" rx="7.8" ry="4.3" fill="#fff" stroke="#000" stroke-width="1.0"/>
<path d="M804.0,319.3 L813.0,323.5 M804.0,323.5 L813.0,319.3" stroke="#000" stroke-width="0.9" fill="none"/>
<ellipse cx="805.5" cy="322.6" rx="2.6" ry="1.6" fill="none" stroke="#000" stroke-width="0.9"/>
<ellipse cx="811.5" cy="322.6" rx="2.6" ry="1.6" fill="none" stroke="#000" stroke-width="0.9"/>
<ellipse cx="558.3" cy="208.8" rx="8.6" ry="4.6" fill="#fff" stroke="#000" stroke-width="1.2"/>
<path d="M566.8,210.1 L566.6,210.5 L566.3,210.9 L566.0,211.3 L565.6,211.7 L565.2,212.0 L564.7,212.4 L564.1,212.7 L563.5,213.0 L562.9,213.2 L562.2,213.4 L561.4,213.6 L560.7,213.7 L559.9,213.8 L559.1,213.9 L558.3,213.9 L557.5,213.9 L556.7,213.8 L555.9,213.7 L555.2,213.6 L554.4,213.4 L553.7,213.2 L553.1,213.0 L552.5,212.7 L551.9,212.4 L551.4,212.0 L551.0,211.7 L550.6,211.3 L550.3,210.9 L550.0,210.5 L549.8,210.1" fill="none" stroke="#000" stroke-width="2.2"/>
<ellipse cx="558.5" cy="177.0" rx="4.2" ry="1.7" transform="rotate(14 558.5 177.0)" fill="#fff" stroke="#000" stroke-width="1.1"/>
<path d="M555.1,176.8 L558.2,178.4" stroke="#000" stroke-width="1.5" fill="none"/>
<ellipse cx="558.5" cy="180.5" rx="4.2" ry="1.7" transform="rotate(14 558.5 180.5)" fill="#fff" stroke="#000" stroke-width="1.1"/>
<path d="M555.1,180.3 L558.2,181.9" stroke="#000" stroke-width="1.5" fill="none"/>
<ellipse cx="558.4" cy="184.1" rx="4.2" ry="1.7" transform="rotate(14 558.4 184.1)" fill="#fff" stroke="#000" stroke-width="1.1"/>
<path d="M555.0,183.9 L558.1,185.5" stroke="#000" stroke-width="1.5" fill="none"/>
<ellipse cx="558.4" cy="187.6" rx="4.2" ry="1.7" transform="rotate(14 558.4 187.6)" fill="#fff" stroke="#000" stroke-width="1.1"/>
<path d="M555.0,187.4 L558.1,189.0" stroke="#000" stroke-width="1.5" fill="none"/>
<ellipse cx="558.4" cy="191.2" rx="4.2" ry="1.7" transform="rotate(14 558.4 191.2)" fill="#fff" stroke="#000" stroke-width="1.1"/>
<path d="M555.0,191.0 L558.1,192.6" stroke="#000" stroke-width="1.5" fill="none"/>
<ellipse cx="558.4" cy="194.7" rx="4.2" ry="1.7" transform="rotate(14 558.4 194.7)" fill="#fff" stroke="#000" stroke-width="1.1"/>
<path d="M555.0,194.5 L558.1,196.1" stroke="#000" stroke-width="1.5" fill="none"/>
<ellipse cx="558.4" cy="198.3" rx="4.2" ry="1.7" transform="rotate(14 558.4 198.3)" fill="#fff" stroke="#000" stroke-width="1.1"/>
<path d="M555.0,198.1 L558.1,199.7" stroke="#000" stroke-width="1.5" fill="none"/>
<ellipse cx="558.3" cy="201.8" rx="4.2" ry="1.7" transform="rotate(14 558.3 201.8)" fill="#fff" stroke="#000" stroke-width="1.1"/>
<path d="M554.9,201.6 L558.0,203.2" stroke="#000" stroke-width="1.5" fill="none"/>
<path d="M555.0,203.3 L558.6,208.8 L561.6,203.3 Z" fill="#fff" stroke="#000" stroke-width="1.0"/>
<path d="M558.3,203.8 L558.6,208.8" stroke="#000" stroke-width="1.0"/>
<ellipse cx="558.5" cy="172.5" rx="7.8" ry="4.3" fill="#fff" stroke="#000" stroke-width="1.0"/>
<path d="M554.0,170.5 L563.0,174.7 M554.0,174.7 L563.0,170.5" stroke="#000" stroke-width="0.9" fill="none"/>
<ellipse cx="555.5" cy="173.8" rx="2.6" ry="1.6" fill="none" stroke="#000" stroke-width="0.9"/>
<ellipse cx="561.5" cy="173.8" rx="2.6" ry="1.6" fill="none" stroke="#000" stroke-width="0.9"/>
<ellipse cx="365.3" cy="320.0" rx="8.6" ry="4.6" fill="#fff" stroke="#000" stroke-width="1.2"/>
<path d="M373.8,321.3 L373.6,321.7 L373.3,322.1 L373.0,322.5 L372.6,322.9 L372.2,323.2 L371.7,323.6 L371.1,323.9 L370.5,324.2 L369.9,324.4 L369.2,324.6 L368.4,324.8 L367.7,324.9 L366.9,325.0 L366.1,325.1 L365.3,325.1 L364.5,325.1 L363.7,325.0 L362.9,324.9 L362.2,324.8 L361.4,324.6 L360.7,324.4 L360.1,324.2 L359.5,323.9 L358.9,323.6 L358.4,323.2 L358.0,322.9 L357.6,322.5 L357.3,322.1 L357.0,321.7 L356.8,321.3" fill="none" stroke="#000" stroke-width="2.2"/>
<ellipse cx="366.8" cy="287.5" rx="4.2" ry="1.7" transform="rotate(14 366.8 287.5)" fill="#fff" stroke="#000" stroke-width="1.1"/>
<path d="M363.4,287.3 L366.5,288.9" stroke="#000" stroke-width="1.5" fill="none"/>
<ellipse cx="366.6" cy="291.1" rx="4.2" ry="1.7" transform="rotate(14 366.6 291.1)" fill="#fff" stroke="#000" stroke-width="1.1"/>
<path d="M363.2,290.9 L366.3,292.5" stroke="#000" stroke-width="1.5" fill="none"/>
<ellipse cx="366.5" cy="294.8" rx="4.2" ry="1.7" transform="rotate(14 366.5 294.8)" fill="#fff" stroke="#000" stroke-width="1.1"/>
<path d="M363.1,294.6 L366.2,296.2" stroke="#000" stroke-width="1.5" fill="none"/>
<ellipse cx="366.3" cy="298.4" rx="4.2" ry="1.7" transform="rotate(14 366.3 298.4)" fill="#fff" stroke="#000" stroke-width="1.1"/>
<path d="M362.9,298.2 L366.0,299.8" stroke="#000" stroke-width="1.5" fill="none"/>
<ellipse cx="366.1" cy="302.1" rx="4.2" ry="1.7" transform="rotate(14 366.1 302.1)" fill="#fff" stroke="#000" stroke-width="1.1"/>
<path d="M362.7,301.9 L365.8,303.5" stroke="#000" stroke-width="1.5" fill="none"/>
<ellipse cx="366.0" cy="305.7" rx="4.2" ry="1.7" transform="rotate(14 366.0 305.7)" fill="#fff" stroke="#000" stroke-width="1.1"/>
<path d="M362.6,305.5 L365.7,307.1" stroke="#000" stroke-width="1.5" fill="none"/>
<ellipse cx="365.8" cy="309.4" rx="4.2" ry="1.7" transform="rotate(14 365.8 309.4)" fill="#fff" stroke="#000" stroke-width="1.1"/>
<path d="M362.4,309.2 L365.5,310.8" stroke="#000" stroke-width="1.5" fill="none"/>
<ellipse cx="365.6" cy="313.0" rx="4.2" ry="1.7" transform="rotate(14 365.6 313.0)" fill="#fff" stroke="#000" stroke-width="1.1"/>
<path d="M362.2,312.8 L365.3,314.4" stroke="#000" stroke-width="1.5" fill="none"/>
<path d="M362.0,314.5 L365.6,320.0 L368.6,314.5 Z" fill="#fff" stroke="#000" stroke-width="1.0"/>
<path d="M365.3,315.0 L365.6,320.0" stroke="#000" stroke-width="1.0"/>
<ellipse cx="367.0" cy="283.0" rx="7.8" ry="4.3" fill="#fff" stroke="#000" stroke-width="1.0"/>
<path d="M362.5,281.0 L371.5,285.2 M362.5,285.2 L371.5,281.0" stroke="#000" stroke-width="0.9" fill="none"/>
<ellipse cx="364.0" cy="284.3" rx="2.6" ry="1.6" fill="none" stroke="#000" stroke-width="0.9"/>
<ellipse cx="370.0" cy="284.3" rx="2.6" ry="1.6" fill="none" stroke="#000" stroke-width="0.9"/>
<path d="M50.8,265.5 L87.5,224.2 L221.8,303.0 L185.5,344.2 Z" fill="none" stroke="#000" stroke-width="1.00" />
<path d="M100.8,250.5 L105.5,242.5" fill="none" stroke="#000" stroke-width="2.20" />
<ellipse cx="85.0" cy="268.5" rx="4.2" ry="2.8" transform="rotate(-40.0 85.0 268.5)" fill="none" stroke="#000" stroke-width="1.70"/>
<path d="M91.2,280.5 L117.0,251.0 L138.0,263.5 L113.0,292.2 Z" fill="none" stroke="#000" stroke-width="1.00" />
<path d="M125.4,300.0 Q119.8,296.8 124.1,291.9 L141.9,271.9 Q146.2,267.0 151.9,270.3 L209.6,304.0 Q215.2,307.2 210.9,312.1 L193.6,331.6 Q189.2,336.5 183.6,333.3 Z" fill="none" stroke="#000" stroke-width="1.20" />
<text x="59.4" y="412.6" font-family="Liberation Sans, sans-serif" font-weight="bold" font-size="34.6" style="filter:grayscale(1)">9</text>
<path d="M132.1,285.9 L135.5,286.6 L137.0,284.9 L138.9,285.9 L140.4,284.2 L142.5,285.2 L144.3,283.6 L146.2,285.0 L148.3,284.2 L149.6,286.2 L152.0,285.9 L152.8,288.1 L155.0,288.5 L155.1,290.7 L156.9,292.0 L156.1,294.1 L157.9,296.1 L157.4,301.4 L155.4,302.4 L155.0,299.0 Z" fill="#1a1a1a" stroke="#1a1a1a" stroke-width="0.60" />
<path d="M155.0,294.1 L164.2,298.5 M157.4,298.5 L163.2,301.4" fill="none" stroke="#1a1a1a" stroke-width="1.20" />
<path d="M163.7,298.0 L166.6,297.0 L170.5,297.5 L177.3,299.0 L182.1,300.4 L188.0,305.8 L193.8,311.6 L195.2,316.5 L194.3,322.3 L193.3,325.7 L190.9,326.4 L188.4,323.3 L187.5,317.9 L182.1,312.6 L177.3,310.6 L174.9,312.6 L172.9,314.7 L169.5,314.7 L170.3,312.1 L172.4,309.2 L170.5,306.3 L167.1,303.8 L164.9,305.0 L165.1,302.4 L163.5,301.1 Z" fill="#1a1a1a" stroke="#1a1a1a" stroke-width="0.80" />
<path d="M172.9,289.3 L188.0,324.2 M161.3,308.9 L206.9,308.2" fill="none" stroke="#1a1a1a" stroke-width="1.00" />
<path d="M194.8,313.5 L199.6,316.5" fill="none" stroke="#1a1a1a" stroke-width="1.00" />
<path d="M806.0,63.9 L718.9,113.1 L705.0,132.7" fill="none" stroke="#000" stroke-width="2.10" />
<path d="M705.0,132.7 L708.2,135.1 L737.9,144.4 L813.6,101.3" fill="none" stroke="#000" stroke-width="2.10" />
<path d="M813.6,101.2 L827.5,95.4" fill="none" stroke="#000" stroke-width="2.10" />
<path d="M718.9,113.6 L726.5,118.9 L715.8,134.1 L731.6,138.5 L807.3,96.7" fill="none" stroke="#000" stroke-width="1.10" />
<path d="M725.9,118.8 L811.1,70.2" fill="none" stroke="#000" stroke-width="1.00" />
<path d="M807.3,96.7 L813.6,101.2" fill="none" stroke="#000" stroke-width="1.10" />
<ellipse cx="729.0" cy="120.2" rx="1.6" ry="2.4" transform="rotate(20.0 729.0 120.2)" fill="none" stroke="#000" stroke-width="1.20"/>
<ellipse cx="736.3" cy="123.7" rx="1.8" ry="2.4" transform="rotate(20.0 736.3 123.7)" fill="none" stroke="#000" stroke-width="1.60"/>
<path d="M738.5,125.2 L750.5,131.6" fill="none" stroke="#000" stroke-width="0.90" stroke-dasharray="3 1.5"/>
<path d="M806.2,63.6 L812.0,62.1 Q817.4,62.1 818.8,66.0 L813.0,69.9 L808.2,64.6" fill="none" stroke="#000" stroke-width="2.10" />
<path d="M806.0,64.1 L806.0,75.7 M806.0,85.4 L806.0,96.1" fill="none" stroke="#000" stroke-width="1.00" />
<path d="M813.5,79.1 L813.5,101.0 M821.7,73.3 L821.7,89.8 L813.5,94.2 M825.1,71.4 Q827.6,73.3 827.6,78.2 L827.6,94.7 L814.0,101.0" fill="none" stroke="#000" stroke-width="2.10" />
<path d="M810.1,95.6 L813.5,97.6" fill="none" stroke="#000" stroke-width="1.20" />
<path d="M753.6,130.0 L770.7,138.5 Q773.8,142.3 768.8,145.2 L751.7,136.0 Q748.6,132.2 753.6,130.0 Z" fill="#fff" stroke="#000" stroke-width="2.10" />
<ellipse cx="769.8" cy="141.9" rx="1.8" ry="2.8" transform="rotate(20.0 769.8 141.9)" fill="#fff" stroke="#000" stroke-width="1.50"/>
<path d="M755.5,165.6 Q758.7,161.8 762.5,161.8 L827.5,123.3 M755.5,165.6 Q753.6,170.7 757.4,173.8 Q761.8,177.0 766.9,174.5 L830.0,134.7" fill="none" stroke="#000" stroke-width="2.10" />
<path d="M766.3,166.9 L825.0,131.8 M768.8,171.3 L827.5,136.6" fill="none" stroke="#000" stroke-width="0.90" />
<ellipse cx="764.4" cy="170.4" rx="1.6" ry="2.4" transform="rotate(20.0 764.4 170.4)" fill="none" stroke="#000" stroke-width="1.50"/>
<path d="M824.6,123.6 Q828.4,119.2 834.3,120.7 Q839.1,122.6 838.6,127.5 Q837.7,132.8 831.8,133.3" fill="none" stroke="#000" stroke-width="2.10" />
<ellipse cx="833.8" cy="128.0" rx="1.7" ry="2.4" transform="rotate(15.0 833.8 128.0)" fill="none" stroke="#000" stroke-width="1.60"/>
<path d="M819.7,131.8 L828.9,126.5 M820.2,130.4 L828.0,125.5 M820.7,132.8 L829.4,128.0" fill="none" stroke="#000" stroke-width="1.20" />
<path d="M838.2,130.9 L843.5,133.6 M851.7,138.2 L862.9,144.5" fill="none" stroke="#000" stroke-width="0.90" stroke-dasharray="4 1.5"/>
<path d="M844.0,133.3 L836.2,137.7 L835.7,141.1 L830.9,143.5 L830.4,148.8 L823.6,154.2 L831.4,155.4 L843.5,148.3 L843.5,181.0" fill="none" stroke="#000" stroke-width="2.10" />
<path d="M824.6,154.7 L831.4,154.7 L843.0,147.9" fill="none" stroke="#000" stroke-width="2.10" />
<path d="M854.5,137.2 L854.5,181.0" fill="none" stroke="#000" stroke-width="2.10" />
<ellipse cx="836.0" cy="146.1" rx="1.7" ry="2.3" transform="rotate(20.0 836.0 146.1)" fill="none" stroke="#000" stroke-width="1.80"/>
<path d="M843.0,160.0 L843.0,194.1 L855.6,187.1 L855.6,160.0" fill="none" stroke="#000" stroke-width="2.10" />
<ellipse cx="848.3" cy="186.3" rx="2.0" ry="2.7" transform="rotate(15.0 848.3 186.3)" fill="none" stroke="#000" stroke-width="2.00"/>
<path d="M874.1,146.4 L869.2,144.0 Q864.4,145.0 865.3,148.8 L882.8,160.0 Q886.7,160.5 887.2,155.6" fill="none" stroke="#000" stroke-width="2.10" />
<path d="M887.2,155.6 Q884.8,153.7 883.3,156.6 Q882.8,159.0 884.8,160.0" fill="none" stroke="#000" stroke-width="1.40" />
<ellipse cx="815.0" cy="191.6" rx="5.7" ry="7.3" transform="rotate(20.0 815.0 191.6)" fill="none" stroke="#000" stroke-width="1.60"/>
<ellipse cx="815.2" cy="191.8" rx="2.8" ry="3.8" transform="rotate(20.0 815.2 191.8)" fill="none" stroke="#000" stroke-width="1.30"/>
<path d="M811.5,194.1 L817.1,188.4 M813.3,196.0 L819.0,190.3" fill="none" stroke="#000" stroke-width="1.00" />
<path d="M820.9,196.0 L827.2,199.8" fill="none" stroke="#000" stroke-width="0.90" />
<path d="M847.4,265.2 L846.8,265.5 L846.1,265.8 L845.5,266.0 L844.8,266.2 L844.1,266.4 L843.4,266.5 L842.7,266.6 L841.9,266.6 L841.2,266.6 L840.4,266.6 L839.6,266.5 L838.8,266.3 L838.0,266.2 L837.2,266.0 L836.4,265.8 L835.6,265.5 L834.8,265.2 L834.0,264.8 L833.1,264.4 L832.3,264.0 L831.5,263.5 L830.6,263.1 L829.8,262.5 L829.0,262.0 L828.1,261.4 L827.3,260.7 L826.5,260.1 L825.7,259.4 L824.8,258.6 L824.0,257.9 L823.2,257.1 L822.5,256.3 L821.7,255.5 L820.9,254.6 L820.2,253.7 L819.4,252.8 L818.7,251.9 L818.0,250.9 L817.3,250.0 L816.6,249.0 L816.0,248.0 L815.3,246.9 L814.7,245.9 L814.1,244.8 L813.5,243.8 L813.0,242.7 L812.4,241.6 L811.9,240.5 L811.4,239.4 L811.0,238.3 L810.5,237.2 L810.1,236.1 L809.7,234.9 L809.3,233.8 L809.0,232.7 L808.7,231.6 L808.4,230.5 L808.1,229.3 L807.9,228.2 L807.7,227.1 L807.5,226.1 L807.4,225.0 L807.3,223.9 L807.2,222.9 L807.1,221.8 L807.1,220.8 L807.1,219.8 L807.1,218.8 L807.2,217.8 L807.2,216.9 L807.4,216.0 L807.5,215.1 L807.7,214.2 L807.9,213.3 L808.1,212.5 L808.4,211.7 L808.7,210.9 L809.0,210.2 L809.3,209.4 L809.7,208.7 L810.1,208.1 L810.5,207.5 L810.9,206.9 L811.4,206.3 L811.9,205.8 L812.4,205.3 L812.9,204.8 L813.5,204.4 L814.1,204.0 L821.0,200.2 L821.6,199.9 L822.2,199.6 L822.9,199.4 L823.6,199.2 L824.3,199.0 L825.0,198.9 L825.7,198.8 L826.4,198.8 L827.2,198.8 L828.0,198.8 L828.7,198.9 L829.5,199.1 L830.3,199.2 L831.1,199.4 L831.9,199.6 L832.7,199.9 L833.6,200.2 L834.4,200.6 L835.2,201.0 L836.0,201.4 L836.9,201.9 L837.7,202.3 L838.6,202.9 L839.4,203.4 L840.2,204.0 L841.1,204.7 L841.9,205.3 L842.7,206.0 L843.5,206.7 L844.3,207.5 L845.1,208.3 L845.9,209.1 L846.7,209.9 L847.4,210.8 L848.2,211.7 L848.9,212.6 L849.6,213.5 L850.4,214.5 L851.1,215.4 L851.7,216.4 L852.4,217.4 L853.0,218.5 L853.6,219.5 L854.2,220.6 L854.8,221.6 L855.4,222.7 L855.9,223.8 L856.4,224.9 L856.9,226.0 L857.4,227.1 L857.8,228.2 L858.3,229.3 L858.7,230.5 L859.0,231.6 L859.4,232.7 L859.7,233.8 L860.0,234.9 L860.2,236.1 L860.5,237.2 L860.7,238.3 L860.8,239.3 L861.0,240.4 L861.1,241.5 L861.2,242.5 L861.2,243.6 L861.3,244.6 L861.3,245.6 L861.2,246.6 L861.2,247.6 L861.1,248.5 L861.0,249.4 L860.8,250.3 L860.7,251.2 L860.5,252.1 L860.2,252.9 L860.0,253.7 L859.7,254.5 L859.4,255.2 L859.1,256.0 L858.7,256.7 L858.3,257.3 L857.9,257.9 L857.4,258.5 L857.0,259.1 L856.5,259.6 L856.0,260.1 L855.4,260.6 L854.9,261.0 L854.3,261.4 Z" fill="#fff" stroke="#000" stroke-width="2.50" />
<path d="M848.5,225.2 L849.1,226.2 L849.6,227.3 L850.1,228.4 L850.6,229.5 L851.1,230.6 L851.5,231.8 L852.0,232.9 L852.4,234.0 L852.7,235.1 L853.1,236.2 L853.4,237.4 L853.7,238.5 L853.9,239.6 L854.1,240.7 L854.3,241.8 L854.5,242.9 L854.7,244.0 L854.8,245.0 L854.9,246.1 L854.9,247.1 L855.0,248.1 L855.0,249.1 L854.9,250.1 L854.9,251.1 L854.8,252.0 L854.7,253.0 L854.5,253.9 L854.4,254.8 L854.2,255.6 L853.9,256.5 L853.7,257.3 L853.4,258.0 L853.1,258.8 L852.7,259.5 L852.4,260.2 L852.0,260.8 L851.6,261.5 L851.1,262.1 L850.7,262.6 L850.2,263.1 L849.6,263.6 L849.1,264.1 L848.6,264.5 L848.0,264.9 L847.4,265.2 L846.8,265.5 L846.1,265.8 L845.5,266.0 L844.8,266.2 L844.1,266.4 L843.4,266.5 L842.7,266.6 L841.9,266.6 L841.2,266.6 L840.4,266.6 L839.6,266.5 L838.8,266.3 L838.0,266.2 L837.2,266.0 L836.4,265.8 L835.6,265.5 L834.8,265.2 L834.0,264.8 L833.1,264.4 L832.3,264.0 L831.5,263.5 L830.6,263.1 L829.8,262.5 L829.0,262.0 L828.1,261.4 L827.3,260.7 L826.5,260.1 L825.7,259.4 L824.8,258.6 L824.0,257.9 L823.2,257.1 L822.5,256.3 L821.7,255.5 L820.9,254.6 L820.2,253.7 L819.4,252.8 L818.7,251.9 L818.0,250.9 L817.3,250.0 L816.6,249.0 L816.0,248.0 L815.3,246.9 L814.7,245.9 L814.1,244.8 L813.5,243.8 L813.0,242.7 L812.4,241.6 L811.9,240.5 L811.4,239.4 L811.0,238.3 L810.5,237.2 L810.1,236.1 L809.7,234.9 L809.3,233.8 L809.0,232.7 L808.7,231.6 L808.4,230.5 L808.1,229.3 L807.9,228.2 L807.7,227.1 L807.5,226.1 L807.4,225.0 L807.3,223.9 L807.2,222.9 L807.1,221.8 L807.1,220.8 L807.1,219.8 L807.1,218.8 L807.2,217.8 L807.2,216.9 L807.4,216.0 L807.5,215.1 L807.7,214.2 L807.9,213.3 L808.1,212.5 L808.4,211.7 L808.7,210.9 L809.0,210.2 L809.3,209.4 L809.7,208.7 L810.1,208.1 L810.5,207.5 L810.9,206.9 L811.4,206.3 L811.9,205.8 L812.4,205.3 L812.9,204.8 L813.5,204.4 L814.1,204.0 L814.7,203.7 L815.3,203.4 L815.9,203.1 L816.6,202.9 L817.3,202.7 L818.0,202.6 L818.7,202.4 L819.4,202.4 L820.1,202.3 L820.9,202.3 L821.6,202.4 L822.4,202.5 L823.2,202.6 L824.0,202.7 L824.8,202.9 L825.6,203.2 L826.4,203.5 L827.2,203.8 L828.1,204.1 L828.9,204.5 L829.7,204.9 L830.6,205.4 L831.4,205.9 L832.2,206.4 L833.1,207.0 L833.9,207.6 L834.7,208.2 L835.6,208.9 L836.4,209.6 L837.2,210.3 L838.0,211.0 L838.8,211.8 L839.6,212.6 L840.3,213.5 L841.1,214.3 L841.9,215.2 L842.6,216.1 L843.3,217.0 L844.0,218.0 L844.7,219.0 L845.4,220.0 L846.1,221.0 L846.7,222.0 L847.3,223.0 L847.9,224.1 L848.5,225.2 Z" fill="#fff" stroke="#000" stroke-width="1.00" />
<path d="M847.4,265.2 L846.8,265.5 L846.1,265.8 L845.5,266.0 L844.8,266.2 L844.1,266.4 L843.4,266.5 L842.7,266.6 L841.9,266.6 L841.2,266.6 L840.4,266.6 L839.6,266.5 L838.8,266.3 L838.0,266.2 L837.2,266.0 L836.4,265.8 L835.6,265.5 L834.8,265.2 L834.0,264.8 L833.1,264.4 L832.3,264.0 L831.5,263.5 L830.6,263.1 L829.8,262.5 L829.0,262.0 L828.1,261.4 L827.3,260.7 L826.5,260.1 L825.7,259.4 L824.8,258.6 L824.0,257.9 L823.2,257.1 L822.5,256.3 L821.7,255.5 L820.9,254.6 L820.2,253.7 L819.4,252.8 L818.7,251.9 L818.0,250.9 L817.3,250.0 L816.6,249.0 L816.0,248.0 L815.3,246.9 L814.7,245.9 L814.1,244.8 L813.5,243.8 L813.0,242.7 L812.4,241.6 L811.9,240.5 L811.4,239.4 L811.0,238.3 L810.5,237.2 L810.1,236.1 L809.7,234.9 L809.3,233.8 L809.0,232.7 L808.7,231.6 L808.4,230.5 L808.1,229.3 L807.9,228.2 L807.7,227.1 L807.5,226.1 L807.4,225.0 L807.3,223.9 L807.2,222.9 L807.1,221.8 L807.1,220.8 L807.1,219.8 L807.1,218.8 L807.2,217.8 L807.2,216.9 L807.4,216.0 L807.5,215.1 L807.7,214.2 L807.9,213.3 L808.1,212.5 L808.4,211.7 L808.7,210.9 L809.0,210.2 L809.3,209.4 L809.7,208.7 L810.1,208.1 L810.5,207.5 L810.9,206.9 L811.4,206.3 L811.9,205.8 L812.4,205.3 L812.9,204.8 L813.5,204.4 L814.1,204.0" fill="none" stroke="#000" stroke-width="2.50" />
<ellipse cx="831.7" cy="235.7" rx="5.8" ry="7.8" transform="rotate(-15.0 831.7 235.7)" fill="none" stroke="#000" stroke-width="2.00"/>
<path d="M834.8,202.9 L849.3,195.1 L856.9,199.1 L856.9,214.3 L851.8,217.4 L841.7,207.3 Z" fill="#fff" stroke="#000" stroke-width="2.10" />
<path d="M841.7,207.3 L856.9,199.1 M841.7,207.3 L851.8,217.4 L856.9,214.3" fill="none" stroke="#000" stroke-width="2.10" />
<path d="M839.2,203.5 L850.6,197.5" fill="none" stroke="#000" stroke-width="2.10" />
<ellipse cx="851.8" cy="211.1" rx="1.6" ry="2.7" transform="rotate(10.0 851.8 211.1)" fill="none" stroke="#000" stroke-width="1.80"/>
<path d="M858.2,215.5 L865.7,219.3 M860.0,219.6 L871.4,214.0" fill="none" stroke="#000" stroke-width="0.90" />
<path d="M872.0,213.0 L872.0,209.9 L891.0,199.1 M877.1,216.4 L896.0,206.1" fill="none" stroke="#000" stroke-width="1.30" />
<ellipse cx="874.3" cy="213.0" rx="2.8" ry="3.5" transform="rotate(20.0 874.3 213.0)" fill="#fff" stroke="#000" stroke-width="1.30"/>
<path d="M876.8,207.7 L879.9,213.5" fill="none" stroke="#000" stroke-width="1.20" />
<path d="M878.7,206.6 L881.8,212.4" fill="none" stroke="#000" stroke-width="1.20" />
<path d="M880.6,205.6 L883.7,211.4" fill="none" stroke="#000" stroke-width="1.20" />
<path d="M882.5,204.4 L885.5,210.2" fill="none" stroke="#000" stroke-width="1.20" />
<path d="M884.4,203.4 L887.4,209.2" fill="none" stroke="#000" stroke-width="1.20" />
<path d="M886.3,202.4 L889.3,208.2" fill="none" stroke="#000" stroke-width="1.20" />
<path d="M888.2,201.3 L891.2,207.1" fill="none" stroke="#000" stroke-width="1.20" />
<path d="M890.1,200.3 L893.1,206.1" fill="none" stroke="#000" stroke-width="1.20" />
<path d="M892.0,199.1 L895.0,204.9" fill="none" stroke="#000" stroke-width="1.20" />
<path d="M891.0,196.0 L898.5,191.6 M896.0,207.0 L903.6,202.9" fill="none" stroke="#000" stroke-width="1.40" />
<ellipse cx="893.5" cy="201.0" rx="4.4" ry="6.3" transform="rotate(20.0 893.5 201.0)" fill="#fff" stroke="#000" stroke-width="1.40"/>
<ellipse cx="899.8" cy="197.6" rx="4.8" ry="6.9" transform="rotate(20.0 899.8 197.6)" fill="#fff" stroke="#000" stroke-width="1.40"/>
<path d="M873.3,222.1 L887.2,229.2 L884.7,233.8 L872.0,225.6 Z" fill="#333" stroke="#000" stroke-width="1.00" />
<ellipse cx="891.0" cy="233.2" rx="5.0" ry="5.8" transform="rotate(20.0 891.0 233.2)" fill="#fff" stroke="#000" stroke-width="1.80"/>
<ellipse cx="891.4" cy="233.2" rx="2.5" ry="3.3" transform="rotate(20.0 891.4 233.2)" fill="none" stroke="#000" stroke-width="1.30"/>
<path d="M171.5,212.5 L168.0,286.8" fill="none" stroke="#fff" stroke-width="5.40"/>
<path d="M171.5,212.5 L168.0,286.8" fill="none" stroke="#000" stroke-width="1.60"/>
<path d="M611.5,126.3 L592.0,257.0" fill="none" stroke="#fff" stroke-width="5.40"/>
<path d="M611.5,126.3 L592.0,257.0" fill="none" stroke="#000" stroke-width="1.60"/>
<path d="M682.8,127.5 L656.0,318.0" fill="none" stroke="#fff" stroke-width="5.40"/>
<path d="M682.8,127.5 L656.0,318.0" fill="none" stroke="#000" stroke-width="1.60"/>
<path d="M761.5,38.8 L761.5,140.0" fill="none" stroke="#fff" stroke-width="5.40"/>
<path d="M761.5,38.8 L761.5,140.0" fill="none" stroke="#000" stroke-width="1.60"/>
<path d="M490.0,177.5 L556.5,178.0" fill="none" stroke="#fff" stroke-width="5.40"/>
<path d="M490.0,177.5 L556.5,178.0" fill="none" stroke="#000" stroke-width="1.60"/>
<path d="M869.8,32.0 L785.5,96.2" fill="none" stroke="#fff" stroke-width="5.40"/>
<path d="M869.8,32.0 L785.5,96.2" fill="none" stroke="#000" stroke-width="1.60"/>
<path d="M915.5,67.5 L836.5,121.2" fill="none" stroke="#fff" stroke-width="5.40"/>
<path d="M915.5,67.5 L836.5,121.2" fill="none" stroke="#000" stroke-width="1.60"/>
<path d="M909.0,106.2 L847.2,135.5" fill="none" stroke="#fff" stroke-width="5.40"/>
<path d="M909.0,106.2 L847.2,135.5" fill="none" stroke="#000" stroke-width="1.60"/>
<path d="M911.5,153.0 L876.0,149.5" fill="none" stroke="#fff" stroke-width="5.40"/>
<path d="M911.5,153.0 L876.0,149.5" fill="none" stroke="#000" stroke-width="1.60"/>
<path d="M954.8,256.0 L852.2,243.8" fill="none" stroke="#fff" stroke-width="5.40"/>
<path d="M954.8,256.0 L852.2,243.8" fill="none" stroke="#000" stroke-width="1.60"/>
<path d="M838.5,573.2 L949.8,573.8" fill="none" stroke="#fff" stroke-width="5.40"/>
<path d="M838.5,573.2 L949.8,573.8" fill="none" stroke="#000" stroke-width="1.60"/>
<path d="M394.5,213.0 L390.5,369.2" fill="none" stroke="#fff" stroke-width="5.40"/>
<path d="M394.5,213.0 L390.5,369.2" fill="none" stroke="#000" stroke-width="1.60"/>
<path d="M299.5,286.8 L364.5,287.5" fill="none" stroke="#fff" stroke-width="5.40"/>
<path d="M299.5,286.8 L364.5,287.5" fill="none" stroke="#000" stroke-width="1.60"/>
<path d="M90.5,404.2 L157.5,404.8" fill="none" stroke="#fff" stroke-width="5.50"/>
<path d="M90.5,404.2 L157.5,404.8" fill="none" stroke="#000" stroke-width="1.50"/>
</svg>
</body></html>
